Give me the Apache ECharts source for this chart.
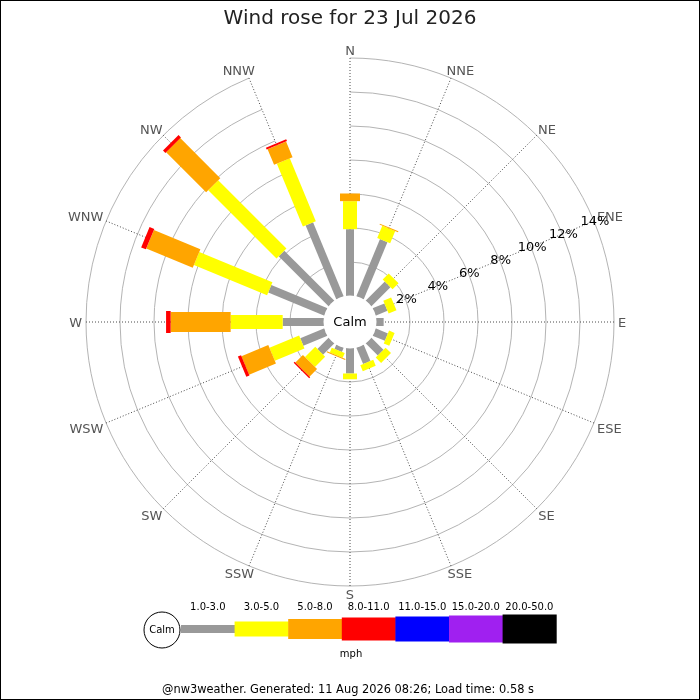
<!DOCTYPE html>
<html><head><meta charset="utf-8">
<script src="https://cdn.jsdelivr.net/npm/echarts@6/dist/echarts.min.js"></script>
<style>html,body{margin:0;padding:0;background:#fff}#c{width:700px;height:700px;box-sizing:border-box;border:1px solid #000}</style>
</head><body><div id="c"></div><script>
// ---- data ----
const directions = ['N','NNE','NE','ENE','E','ESE','SE','SSE','S','SSW','SW','WSW','W','WNW','NW','NNW'];
const speedBins = ['1.0-3.0','3.0-5.0','5.0-8.0','8.0-11.0','11.0-15.0','15.0-20.0','20.0-50.0'];
const freq_1_3   = [3.93,3.65,1.60,0.76,0.45,0.79,1.02,1.05,1.50,0.28,0.95,1.54,2.43,3.58,4.17,4.72];
const freq_3_5   = [1.65,0.78,0.50,0.50,0.00,0.35,0.45,0.38,0.34,0.30,0.85,1.89,3.06,4.66,5.68,4.00];
const freq_5_8   = [0.45,0.06,0.00,0.00,0.00,0.00,0.00,0.00,0.00,0.06,0.63,1.71,3.53,2.96,3.33,1.00];
const freq_8_11  = [0.00,0.00,0.00,0.00,0.00,0.00,0.00,0.00,0.00,0.00,0.08,0.20,0.27,0.30,0.20,0.12];
const freq_11_15 = [0,0,0,0,0,0,0,0,0,0,0,0,0,0,0,0];
const freq_15_20 = [0,0,0,0,0,0,0,0,0,0,0,0,0,0,0,0];
const freq_20_50 = [0,0,0,0,0,0,0,0,0,0,0,0,0,0,0,0];
const radiusTicks = [2,4,6,8,10,12,14];
const pctLabelDirection = 'ENE';
const calmLabel = 'Calm';
const unitLabel = 'mph';
const titleText = 'Wind rose for 23 Jul 2026';
const footerText = '@nw3weather. Generated: 11 Aug 2026 08:26; Load time: 0.58 s';

// ---- styles ----
const binColors = ['#999999','#ffff00','#ffa500','#ff0000','#0000ff','#a020f0','#000000'];
const barWidths = [8,14,20,22,24,26,28];
const legendHeights = [8,15,20,23,25,27,29];
const FONT = '"DejaVu Sans", Verdana, sans-serif';

const allFreq = [freq_1_3,freq_3_5,freq_5_8,freq_8_11,freq_11_15,freq_15_20,freq_20_50];
const chart = echarts.init(document.getElementById('c'), null, {renderer:'canvas'});

const mctx = document.createElement('canvas').getContext('2d');
function textWidth(t, size){ mctx.font = size + 'px ' + FONT; return mctx.measureText(t).width; }

function centerInfo(api){
  const a = api.coord([0, 0]), b = api.coord([0, 8]);
  const cx = (a[0]+b[0])/2, cy = (a[1]+b[1])/2;
  return {cx, cy, r0: Math.hypot(a[0]-cx, a[1]-cy)};
}

const series = [];
allFreq.forEach((arr, bi) => {
  const data = [];
  arr.forEach((v, i) => {
    if (v <= 0) return;
    let start = 0;
    for (let k = 0; k < bi; k++) start += allFreq[k][i];
    data.push([start + v, i, start]);
  });
  if (!data.length) return;
  const w = barWidths[bi], col = binColors[bi];
  series.push({
    type:'custom', coordinateSystem:'polar', name: speedBins[bi], z: 3,
    encode:{radius:0, angle:1}, silent:true, animation:false,
    data,
    renderItem(params, api){
      const c = centerInfo(api);
      const i = api.value(1), end = api.value(0), start = api.value(2);
      const p0 = api.coord([start, i]), p1 = api.coord([end, i]);
      let ux = p1[0]-c.cx, uy = p1[1]-c.cy; const L = Math.hypot(ux,uy); ux/=L; uy/=L;
      const nx = -uy*w/2, ny = ux*w/2;
      return {type:'polygon', shape:{points:[[p0[0]+nx,p0[1]+ny],[p1[0]+nx,p1[1]+ny],[p1[0]-nx,p1[1]-ny],[p0[0]-nx,p0[1]-ny]]}, style:{fill:col}};
    }
  });
});

// calm circle
series.push({
  type:'custom', coordinateSystem:'polar', z: 4, silent:true, animation:false,
  encode:{radius:0, angle:1}, data:[[0,0]],
  renderItem(params, api){
    const c = centerInfo(api);
    return {type:'group', children:[
      {type:'circle', shape:{cx:c.cx, cy:c.cy, r:c.r0+0.5}, style:{fill:'#fff'}},
      {type:'text', style:{x:c.cx, y:c.cy+0.5, text:calmLabel, align:'center', verticalAlign:'middle', font:'13px ' + FONT, fill:'#000'}}
    ]};
  }
});

// percentage labels
const pctIdx = directions.indexOf(pctLabelDirection);
series.push({
  type:'custom', coordinateSystem:'polar', z: 5, silent:true, animation:false,
  encode:{radius:0, angle:1}, data: radiusTicks.map(r => [r, pctIdx]),
  renderItem(params, api){
    const p = api.coord([api.value(0), api.value(1)]);
    return {type:'text', style:{x:p[0]+1, y:p[1]+1, text: api.value(0) + '%', align:'center', verticalAlign:'middle', font:'13px ' + FONT, fill:'#000'}};
  }
});

// direction labels
const maxR = radiusTicks[radiusTicks.length-1];
series.push({
  type:'custom', coordinateSystem:'polar', z: 4, silent:true, animation:false,
  encode:{radius:0, angle:1}, data: directions.map((d,i) => [maxR, i]),
  renderItem(params, api){
    const c = centerInfo(api);
    const i = api.value(1);
    const p = api.coord([maxR, i]);
    const R = Math.hypot(p[0]-c.cx, p[1]-c.cy);
    const s = (p[0]-c.cx)/R, co = -(p[1]-c.cy)/R;
    const t = directions[i];
    const w = textWidth(t, 13);
    const sgn = v => Math.abs(v) < 0.01 ? 0 : Math.sign(v);
    const x = p[0] + s*w/2 + 4*sgn(s);
    const y = p[1] - co*5 - 3*sgn(co) + 1.5;
    return {type:'text', style:{x, y, text:t, align:'center', verticalAlign:'middle', font:'13px ' + FONT, fill:'#555'}};
  }
});

// legend graphics
const graphics = [];
const lgX0 = 180, lgSeg = 53.6, lgY = 628;
graphics.push({type:'circle', shape:{cx:161, cy:629, r:18}, style:{fill:'#fff', stroke:'#000', lineWidth:1}, z:10});
graphics.push({type:'text', x:161, y:629, style:{text:calmLabel, align:'center', verticalAlign:'middle', font:'10px ' + FONT, fill:'#000'}, z:11});
speedBins.forEach((b, k) => {
  const h = legendHeights[k];
  graphics.push({type:'rect', shape:{x:lgX0 + k*lgSeg, y:lgY - h/2, width:lgSeg+0.5, height:h}, style:{fill:binColors[k]}, z:10});
  graphics.push({type:'text', x:lgX0 + k*lgSeg + lgSeg/2, y:606, style:{text:b, align:'center', verticalAlign:'middle', font:'10px ' + FONT, fill:'#000'}, z:11});
});
graphics.push({type:'text', x:350, y:653, style:{text:unitLabel, align:'center', verticalAlign:'middle', font:'10px ' + FONT, fill:'#000'}, z:11});
graphics.push({type:'text', x:347, y:689, style:{text:footerText, align:'center', verticalAlign:'middle', font:'11.4px ' + FONT, fill:'#000'}, z:11});

const splitColors = [];
for (let k = 0; k <= radiusTicks.length; k++) splitColors.push(k === 0 ? 'rgba(0,0,0,0)' : '#b4b4b4');

chart.setOption({
  animation:false,
  backgroundColor:'#fff',
  title:{text:titleText, left:'center', top:8, padding:0, textStyle:{fontFamily:FONT, fontSize:20, fontWeight:'normal', color:'#222'}},
  polar:{center:[349,321], radius:[26,264]},
  angleAxis:{type:'category', data:directions, boundaryGap:false, startAngle:90, clockwise:true,
    axisLine:{show:false}, axisTick:{show:false}, axisLabel:{show:false},
    splitLine:{show:true, lineStyle:{color:'#4a4a4a', width:1, type:[1,2]}}},
  radiusAxis:{type:'value', min:0, max:maxR, interval:2,
    axisLine:{show:false}, axisTick:{show:false}, axisLabel:{show:false},
    splitLine:{show:true, lineStyle:{color:splitColors, width:1}}},
  graphic: graphics,
  series
});
</script></body></html>
